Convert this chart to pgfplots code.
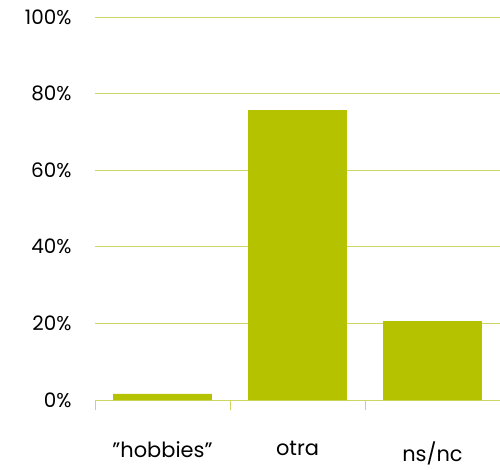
\documentclass[border=0pt]{standalone}
\usepackage{pgfplots}
\pgfplotsset{compat=1.18}
\usepackage{fontspec}
\setmainfont{Poppins}
\definecolor{barc}{RGB}{181,194,0}
\definecolor{gridc}{RGB}{205,214,100}
\begin{document}
\begin{tikzpicture}
\path[use as bounding box] (-95bp,-70bp) rectangle (405bp,400bp);
\begin{axis}[
  at={(0,0)}, anchor=south west,
  scale only axis, width=405bp, height=383bp,
  xmin=-0.5, xmax=2.5, ymin=0, ymax=100,
  axis x line*=bottom, axis y line*=left,
  y axis line style={draw=none},
  x axis line style={draw=gridc, line width=0.8pt},
  xtick={0,1,2}, xticklabels={{\char34hobbies\char34},otra,ns/nc},
  minor xtick={-0.5,0.5,1.5,2.5},
  tick align=outside,
  major tick length=0pt,
  minor tick length=10bp,
  every minor tick/.style={draw=gridc, line width=0.8pt},
  ytick={0,20,40,60,80,100},
  yticklabel={\pgfmathprintnumber{\tick}\%},
  ymajorgrids,
  grid style={draw=gridc, line width=0.8pt},
  /pgf/number format/assume math mode=true,
  tick label style={font=\fontsize{20}{24}\selectfont, text=black},
  yticklabel style={xshift=-20bp},
  xticklabel style={yshift=-38bp, font=\fontsize{21}{24}\selectfont},
  clip=false,
]
\addplot[ybar, bar width=0.73, fill=barc, draw=none] coordinates {(0,1.6) (1,75.7) (2,20.6)};
\end{axis}
\end{tikzpicture}
\end{document}
